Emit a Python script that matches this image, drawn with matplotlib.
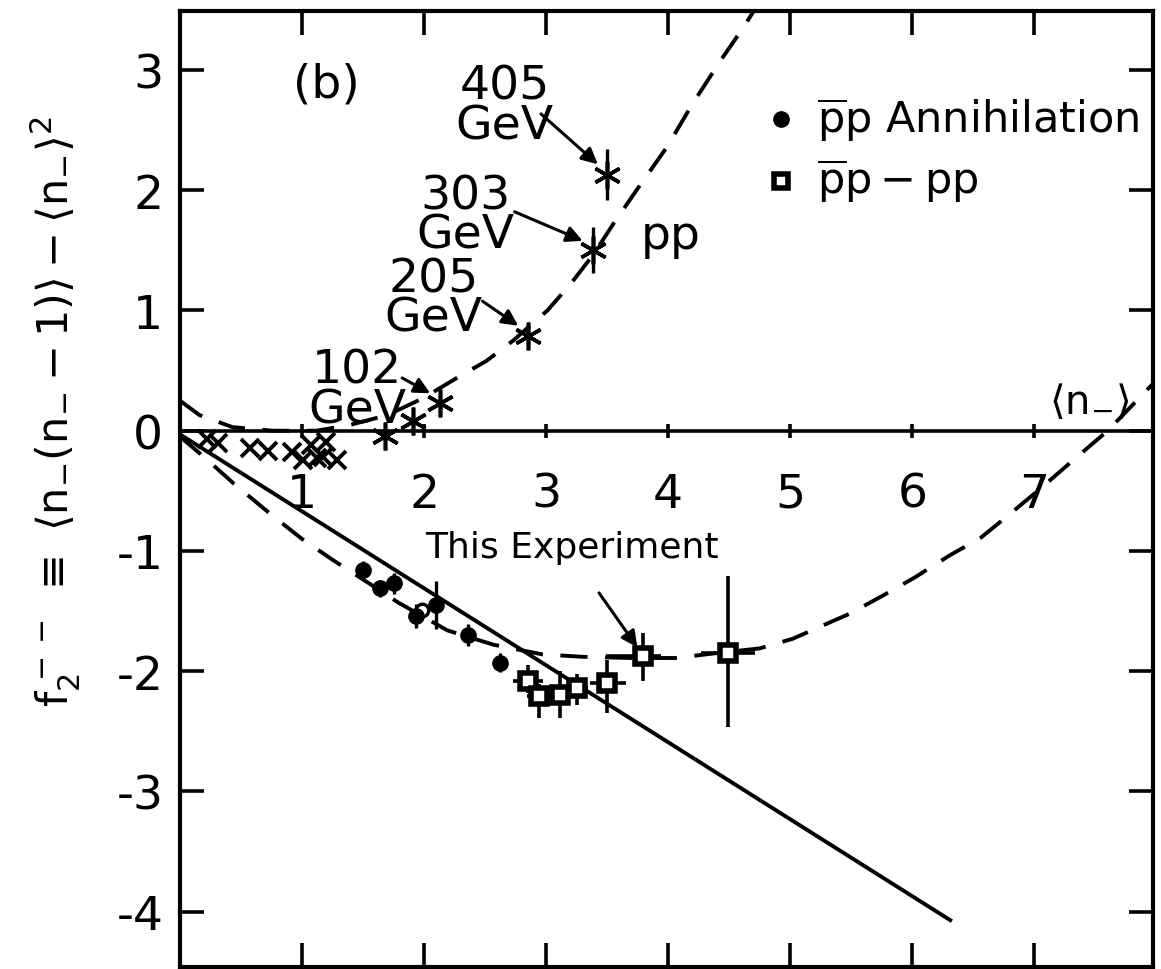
import matplotlib
matplotlib.use("Agg")
import matplotlib.pyplot as plt
import numpy as np

plt.rcParams['font.family'] = ['DejaVu Sans']
plt.rcParams['axes.unicode_minus'] = False
plt.rcParams['mathtext.fontset'] = 'dejavusans'

# ---------------- data ----------------
# pp data (asterisks), with energies
pp_x = [1.68, 1.91, 2.13, 2.85, 3.38, 3.50]
pp_y = [-0.04, 0.08, 0.23, 0.79, 1.50, 2.13]
pp_yerr = [0.04, 0.05, 0.06, 0.08, 0.19, 0.21]

# low-energy points (crosses) near zero
lowx_x = [0.22, 0.31, 0.57, 0.72, 0.92, 1.01, 1.07, 1.12, 1.20, 1.29, 1.17]
lowx_y = [-0.07, -0.10, -0.14, -0.17, -0.18, -0.24, -0.12, -0.23, -0.09, -0.24, -0.22]

# pbar-p annihilation (filled circles)
ann_x = [1.50, 1.64, 1.75, 1.93, 2.10, 2.36, 2.62]
ann_y = [-1.16, -1.31, -1.27, -1.54, -1.45, -1.70, -1.93]
ann_yerr = [0.08, 0.07, 0.09, 0.10, 0.20, 0.09, 0.08]
ann_xerr = [0.0, 0.0, 0.06, 0.0, 0.05, 0.0, 0.0]

# open point near the annihilation data
open_x = [1.98]
open_y = [-1.49]

# pbar-p minus pp (open squares)
sq_x = [2.85, 2.94, 3.11, 3.25, 3.50, 3.79, 4.49]
sq_y = [-2.08, -2.21, -2.20, -2.14, -2.10, -1.87, -1.85]
sq_yerr_lo = [0.10, 0.18, 0.19, 0.14, 0.25, 0.21, 0.61]
sq_yerr_hi = [0.13, 0.10, 0.20, 0.12, 0.19, 0.19, 0.64]
sq_xerr_lo = [0.12, 0.10, 0.07, 0.09, 0.14, 0.30, 0.22]
sq_xerr_hi = [0.12, 0.10, 0.07, 0.09, 0.15, 0.15, 0.22]

# dashed pp curve
ppc_x = [0.0, 0.16, 0.43, 0.76, 1.12, 1.40, 1.70, 1.99, 2.27, 2.51, 2.73,
         3.01, 3.20, 3.39, 3.55, 3.74, 3.99, 4.20, 4.43, 4.62, 4.78]
ppc_y = [0.25, 0.13, 0.03, 0.00, 0.00, 0.05, 0.13, 0.27, 0.44, 0.58, 0.75,
         1.00, 1.22, 1.47, 1.72, 2.00, 2.36, 2.72, 3.08, 3.36, 3.62]

# dashed pbar-p curve
pbc_x = [0.0, 0.20, 0.43, 0.75, 1.00, 1.26, 1.55, 1.79, 2.19, 2.57, 2.97,
         3.30, 3.70, 4.06, 4.39, 4.75, 5.02, 5.31, 5.49, 5.76, 6.02, 6.30,
         6.56, 6.79, 7.05, 7.30, 7.60, 7.98]
pbc_y = [-0.05, -0.22, -0.43, -0.70, -0.90, -1.08, -1.27, -1.43, -1.66,
         -1.78, -1.86, -1.88, -1.89, -1.89, -1.85, -1.81, -1.73, -1.60,
         -1.52, -1.37, -1.22, -1.04, -0.89, -0.70, -0.48, -0.26, 0.00, 0.40]

# solid line
sol_x = [0.0, 6.31]
sol_y = [-0.03, -4.07]

xticks = [1, 2, 3, 4, 5, 6, 7]
yticks = [-4, -3, -2, -1, 0, 1, 2, 3]

energy_labels = ["102\nGeV", "205\nGeV", "303\nGeV", "405\nGeV"]
energy_idx = [2, 3, 4, 5]
energy_text_pos = [(1.45, 0.34), (2.08, 1.10), (2.34, 1.79), (2.66, 2.70)]
energy_arrow_tail = [(1.80, 0.45), (2.46, 1.09), (2.72, 1.83), (2.94, 2.65)]

# ---------------- figure ----------------
fig = plt.figure(figsize=(11.61, 9.70), dpi=100)
ax = fig.add_axes([0.155, 0.002, 0.838, 0.9856])
ax.set_xlim(0, 7.97)
ax.set_ylim(-4.46, 3.49)

lw_sp = 3.0
for s in ax.spines.values():
    s.set_linewidth(lw_sp)

ax.set_xticks(xticks)
ax.set_yticks(yticks)
ax.set_yticklabels([str(t) for t in yticks])
ax.tick_params(direction='in', length=17, width=2.6, top=True, right=True,
               labelbottom=False, labelsize=34, pad=12)

# zero line with small ticks
ax.axhline(0, color='black', lw=2.6)
ax.vlines(xticks, -0.06, 0.06, color='black', lw=2.6)
for t in xticks:
    ax.text(t, -0.53, str(t), ha='center', va='center', fontsize=34)
ax.text(7.45, 0.25, r"$\langle\mathrm{n}_{-}\rangle$", ha='center', va='center', fontsize=29)

dash = (0, (7, 4.5))
ax.plot(ppc_x, ppc_y, color='black', lw=2.8, ls=dash)
ax.plot(pbc_x, pbc_y, color='black', lw=2.8, ls=dash)
ax.plot(sol_x, sol_y, color='black', lw=2.8)

# data
ax.errorbar(pp_x, pp_y, yerr=pp_yerr, fmt='none', ecolor='black', elinewidth=2.4, capsize=0)
ax.plot(pp_x, pp_y, ls='none', marker=(6, 2, 0), ms=20, mew=2.6, color='black')
ax.plot(lowx_x, lowx_y, ls='none', marker='x', ms=13, mew=2.8, color='black')
ax.errorbar(ann_x, ann_y, yerr=ann_yerr, xerr=ann_xerr, fmt='o', ms=11, color='black',
            elinewidth=2.4, capsize=0)
ax.plot(open_x, open_y, ls='none', marker='o', ms=9, mfc='white', mec='black', mew=2.4)
ax.errorbar(sq_x, sq_y, yerr=[sq_yerr_lo, sq_yerr_hi], xerr=[sq_xerr_lo, sq_xerr_hi],
            fmt='s', ms=11, mfc='white', mec='black', mew=4.0, ecolor='black',
            elinewidth=2.6, capsize=0)

# energy labels and arrows
for lab, i, tp, tail in zip(energy_labels, energy_idx, energy_text_pos, energy_arrow_tail):
    ax.text(tp[0], tp[1], lab, ha='center', va='center', fontsize=34, linespacing=0.85)
    ax.annotate('', xy=(pp_x[i] - 0.06, pp_y[i] + 0.07), xytext=tail,
                arrowprops=dict(arrowstyle='-|>', color='black', lw=2.2, mutation_scale=24))

ax.text(4.02, 1.62, "pp", ha='center', va='center', fontsize=34)
ax.text(1.20, 2.88, "(b)", ha='center', va='center', fontsize=34)

ax.text(3.21, -0.97, "This Experiment", ha='center', va='center', fontsize=26)
ax.annotate('', xy=(sq_x[5] - 0.03, sq_y[5] + 0.05), xytext=(3.42, -1.33),
            arrowprops=dict(arrowstyle='-|>', color='black', lw=2.2, mutation_scale=24))

# legend drawn by hand
ax.plot([4.92], [2.59], ls='none', marker='o', ms=11, color='black')
ax.text(5.22, 2.59, r"$\overline{\mathrm{p}}\mathrm{p}$ Annihilation", ha='left', va='center', fontsize=31)
ax.plot([4.92], [2.08], ls='none', marker='s', ms=10, mfc='white', mec='black', mew=4.0)
ax.text(5.22, 2.08, r"$\overline{\mathrm{p}}\mathrm{p} - \mathrm{pp}$", ha='left', va='center', fontsize=31)

fig.text(0.047, 0.575,
         r"$\mathrm{f}_2^{\,--}\ \equiv\ \langle\mathrm{n}_{-}(\mathrm{n}_{-}-1)\rangle - \langle\mathrm{n}_{-}\rangle^2$",
         rotation=90, ha='center', va='center', fontsize=31)

fig.savefig("out.png", dpi=100)
